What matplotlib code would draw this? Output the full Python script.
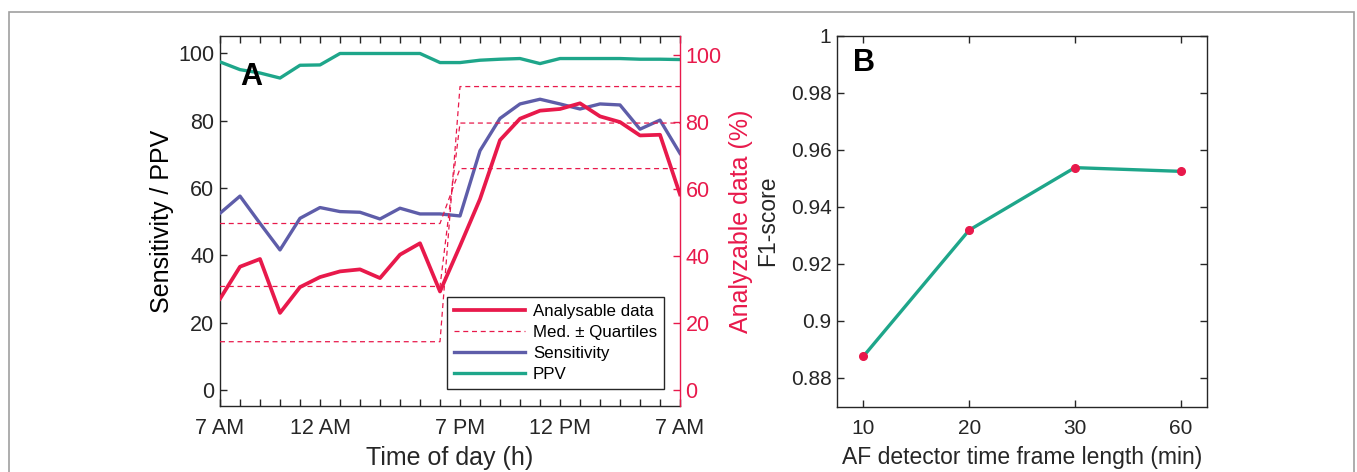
import matplotlib
matplotlib.use("Agg")
import matplotlib.pyplot as plt
from matplotlib.lines import Line2D
from matplotlib.patches import Rectangle
import numpy as np

plt.rcParams['font.family'] = ['Liberation Sans', 'DejaVu Sans']

# ---------------- data ----------------
hour_idx = list(range(24))
hour_tick_pos = [0, 5, 12, 17, 23]
hour_tick_labels = ['7 AM', '12 AM', '7 PM', '12 PM', '7 AM']

ppv = [97.5, 95.2, 94.2, 92.7, 96.5, 96.6, 100.0, 100.0, 100.0, 100.0, 100.0, 97.3,
       97.3, 98.0, 98.3, 98.5, 97.0, 98.5, 98.5, 98.5, 98.5, 98.3, 98.3, 98.2]
sensitivity = [52.5, 57.6, 49.5, 41.6, 51.0, 54.2, 53.0, 52.8, 50.8, 54.0, 52.3, 52.3,
               51.7, 71.1, 80.7, 85.0, 86.4, 85.0, 83.5, 85.0, 84.7, 77.5, 80.2, 70.3]
analysable = [27.2, 36.8, 39.1, 23.0, 30.7, 33.7, 35.4, 36.0, 33.4, 40.4, 43.8, 29.4,
              43.0, 57.0, 74.6, 81.0, 83.4, 83.9, 85.6, 81.7, 80.0, 76.0, 76.2, 58.4]
# median / quartile step lines (day level -> night level)
step_x = [0, 11, 12, 23]
day_levels = [14.4, 30.9, 49.7]
night_levels = [90.6, 79.7, 66.1]

windows = ['10', '20', '30', '60']
f1 = [0.8876, 0.9318, 0.9537, 0.9524]

# ---------------- style ----------------
RED = '#E8194B'
BLUE = '#5E5DA9'
GREEN = '#1EA68A'
AX = '#262626'
TICK_FS = 15.5
LAB_FS = 18
TICK_FS_B = 15
LAB_FS_B = 16.5

fig = plt.figure(figsize=(13.57, 4.72), dpi=100)

# frame around figure
fig.patches.append(Rectangle((9/1357, -0.05), (1354-9)/1357, 1.05 - 12/472,
                             transform=fig.transFigure, fill=False,
                             edgecolor='#A0A0A0', linewidth=1.2))

# ---------------- Panel A ----------------
axA = fig.add_axes([220/1357, 1-406/472, 460/1357, 370/472])
axR = axA.twinx()

axA.plot(hour_idx, ppv, color=GREEN, lw=2.4, zorder=3)
axA.plot(hour_idx, sensitivity, color=BLUE, lw=2.4, zorder=3)
for d, n in zip(day_levels, night_levels):
    axR.plot(step_x, [d, d, n, n], color=RED, lw=0.9, ls=(0, (4, 3)))
axR.plot(hour_idx, analysable, color=RED, lw=2.7)

axA.set_xlim(0, 23)
axA.set_ylim(-4.8, 105.2)
axR.set_ylim(-4.8, 105.7)
axA.set_xticks(hour_idx, minor=True)
axA.set_xticks(hour_tick_pos)
axA.set_xticklabels(hour_tick_labels)
axA.set_yticks([0, 20, 40, 60, 80, 100])
axR.set_yticks([0, 20, 40, 60, 80, 100])

axA.tick_params(axis='x', which='both', direction='in', top=True, bottom=True,
                length=5, width=1, colors=AX, labelsize=TICK_FS, pad=9)
axA.tick_params(axis='y', direction='in', left=True, right=False, length=5,
                width=1, colors=AX, labelsize=TICK_FS, pad=4)
axR.tick_params(axis='y', direction='in', right=True, length=5, width=1,
                colors=RED, labelsize=TICK_FS, pad=4)
for s in ['left', 'top', 'bottom']:
    axA.spines[s].set_color(AX)
    axA.spines[s].set_linewidth(1.0)
axA.spines['right'].set_visible(False)
for s in ['left', 'top', 'bottom']:
    axR.spines[s].set_visible(False)
axR.spines['right'].set_color(RED)
axR.spines['right'].set_linewidth(1.0)

axA.set_xlabel('Time of day (h)', fontsize=LAB_FS, color=AX, labelpad=5)
axA.set_ylabel('Sensitivity / PPV', fontsize=LAB_FS, color='black', labelpad=3)
axR.set_ylabel('Analyzable data (%)', fontsize=LAB_FS, color=RED, labelpad=5)

axA.text(0.045, 0.89, 'A', transform=axA.transAxes, fontsize=22,
         fontweight='bold', ha='left', va='center', color='black')

handles = [Line2D([], [], color=RED, lw=2.7),
           Line2D([], [], color=RED, lw=0.9, ls=(0, (4, 3))),
           Line2D([], [], color=BLUE, lw=2.4),
           Line2D([], [], color=GREEN, lw=2.4)]
labels = ['Analysable data', 'Med. ± Quartiles', 'Sensitivity', 'PPV']
leg = axR.legend(handles, labels, loc='lower right', bbox_to_anchor=(0.965, 0.046),
                 borderaxespad=0, fontsize=12.2, handlelength=4.2,
                 labelspacing=0.36, handletextpad=0.45, borderpad=0.4,
                 fancybox=False, framealpha=1, edgecolor=AX)
leg.get_frame().set_linewidth(1.0)

# ---------------- Panel B ----------------
axB = fig.add_axes([837/1357, 1-406.5/472, 370/1357, 371/472])
xpos = np.arange(1, len(windows) + 1)
axB.plot(xpos, f1, color=GREEN, lw=2.4, zorder=2)
axB.plot(xpos, f1, ls='none', marker='o', ms=5.5, color=RED, zorder=3)
axB.set_xlim(0.75, 4.25)
axB.set_ylim(0.87, 1.0)
axB.set_xticks(xpos)
axB.set_xticklabels(windows)
yt = [0.88, 0.9, 0.92, 0.94, 0.96, 0.98, 1.0]
axB.set_yticks(yt)
axB.set_yticklabels(['0.88', '0.9', '0.92', '0.94', '0.96', '0.98', '1'])
axB.tick_params(axis='both', direction='in', top=True, right=True, length=5,
                width=1, colors=AX, labelsize=TICK_FS_B)
axB.tick_params(axis='x', pad=9)
axB.tick_params(axis='y', pad=4)
for s in axB.spines.values():
    s.set_color(AX)
    s.set_linewidth(1.0)
axB.set_xlabel('AF detector time frame length (min)', fontsize=LAB_FS_B, color=AX, labelpad=6)
axB.set_ylabel('F1-score', fontsize=LAB_FS_B, color=AX, labelpad=8)
axB.text(0.043, 0.925, 'B', transform=axB.transAxes, fontsize=22,
         fontweight='bold', ha='left', va='center', color='black')

fig.savefig('out.png', dpi=100)
